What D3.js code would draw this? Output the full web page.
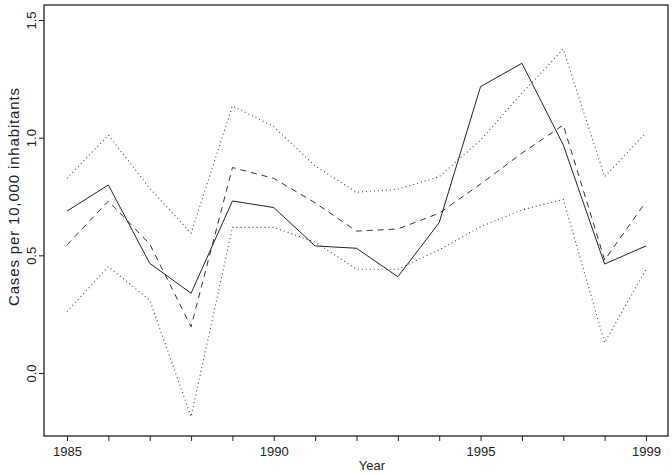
<!DOCTYPE html>
<html>
<head>
<meta charset="utf-8">
<script src="https://cdn.jsdelivr.net/npm/d3@7"></script>
<style>
  html, body { margin: 0; padding: 0; background: #fff; }
  text { font-family: "Liberation Sans", Arial, sans-serif; fill: #222; }
</style>
</head>
<body>
<svg id="chart" width="672" height="475"></svg>
<script>
const years = [1985,1986,1987,1988,1989,1990,1991,1992,1993,1994,1995,1996,1997,1998,1999];
const observed = [0.688,0.799,0.466,0.339,0.731,0.703,0.540,0.530,0.409,0.639,1.217,1.316,0.969,0.463,0.540];
const fitted   = [0.544,0.731,0.548,0.197,0.873,0.827,0.723,0.603,0.612,0.679,0.803,0.934,1.054,0.480,0.728];
const upper    = [0.827,1.011,0.785,0.594,1.135,1.047,0.880,0.768,0.781,0.834,0.990,1.189,1.376,0.834,1.021];
const lower    = [0.261,0.452,0.310,-0.186,0.619,0.619,0.556,0.441,0.441,0.523,0.622,0.693,0.738,0.129,0.441];
const xTickLabels = [1985,1990,1995,1999];
const yTickValues = [0.0,0.5,1.0,1.5];

const svg = d3.select("#chart");
const box = {left: 44, right: 668, top: 5, bottom: 436};

const x = d3.scaleLinear().domain([1985, 1999]).range([67, 646]);
const y = d3.scaleLinear().domain([0, 1.5]).range([373, 20]);

svg.append("rect")
  .attr("x", box.left).attr("y", box.top)
  .attr("width", box.right - box.left).attr("height", box.bottom - box.top)
  .attr("fill", "none").attr("stroke", "#222").attr("stroke-width", 1.3);

const xAxis = d3.axisBottom(x)
  .tickValues(years)
  .tickSize(5)
  .tickFormat(d => xTickLabels.includes(d) ? String(d) : "");
const gx = svg.append("g").attr("transform", `translate(0,${box.bottom})`).call(xAxis);
gx.select(".domain").remove();
gx.selectAll(".tick line").attr("stroke", "#222");
gx.selectAll(".tick text").attr("font-size", 13).attr("dy", "0.9em").attr("y", 8).style("fill", "#222");

const yAxis = d3.axisLeft(y)
  .tickValues(yTickValues)
  .tickSize(5)
  .tickFormat(d3.format(".1f"));
const gy = svg.append("g").attr("transform", `translate(${box.left},0)`).call(yAxis);
gy.select(".domain").remove();
gy.selectAll(".tick line").attr("stroke", "#222");
gy.selectAll(".tick text")
  .attr("font-size", 13)
  .attr("x", 0).attr("dy", 0)
  .attr("text-anchor", "middle")
  .attr("transform", "translate(-8,0) rotate(-90)")
  .style("fill", "#222");

svg.append("text")
  .attr("x", 372).attr("y", 470)
  .attr("text-anchor", "middle").attr("font-size", 13)
  .text("Year");
svg.append("text")
  .attr("transform", "translate(19,197) rotate(-90)")
  .attr("text-anchor", "middle").attr("font-size", 15)
  .attr("textLength", 218).attr("lengthAdjust", "spacing")
  .text("Cases per 10,000 inhabitants");

const line = d3.line().x(d => x(d[0])).y(d => y(d[1]));
const series = [
  {vals: upper,    dash: "1,3",  color: "#444", w: 1.1},
  {vals: lower,    dash: "1,3",  color: "#444", w: 1.1},
  {vals: fitted,   dash: "6,5",  color: "#333", w: 1},
  {vals: observed, dash: null,   color: "#222", w: 1}
];
series.forEach(s => {
  svg.append("path")
    .datum(years.map((yr, i) => [yr, s.vals[i]]))
    .attr("d", line)
    .attr("fill", "none")
    .attr("stroke", s.color)
    .attr("stroke-width", s.w)
    .attr("stroke-dasharray", s.dash);
});
</script>
</body>
</html>
